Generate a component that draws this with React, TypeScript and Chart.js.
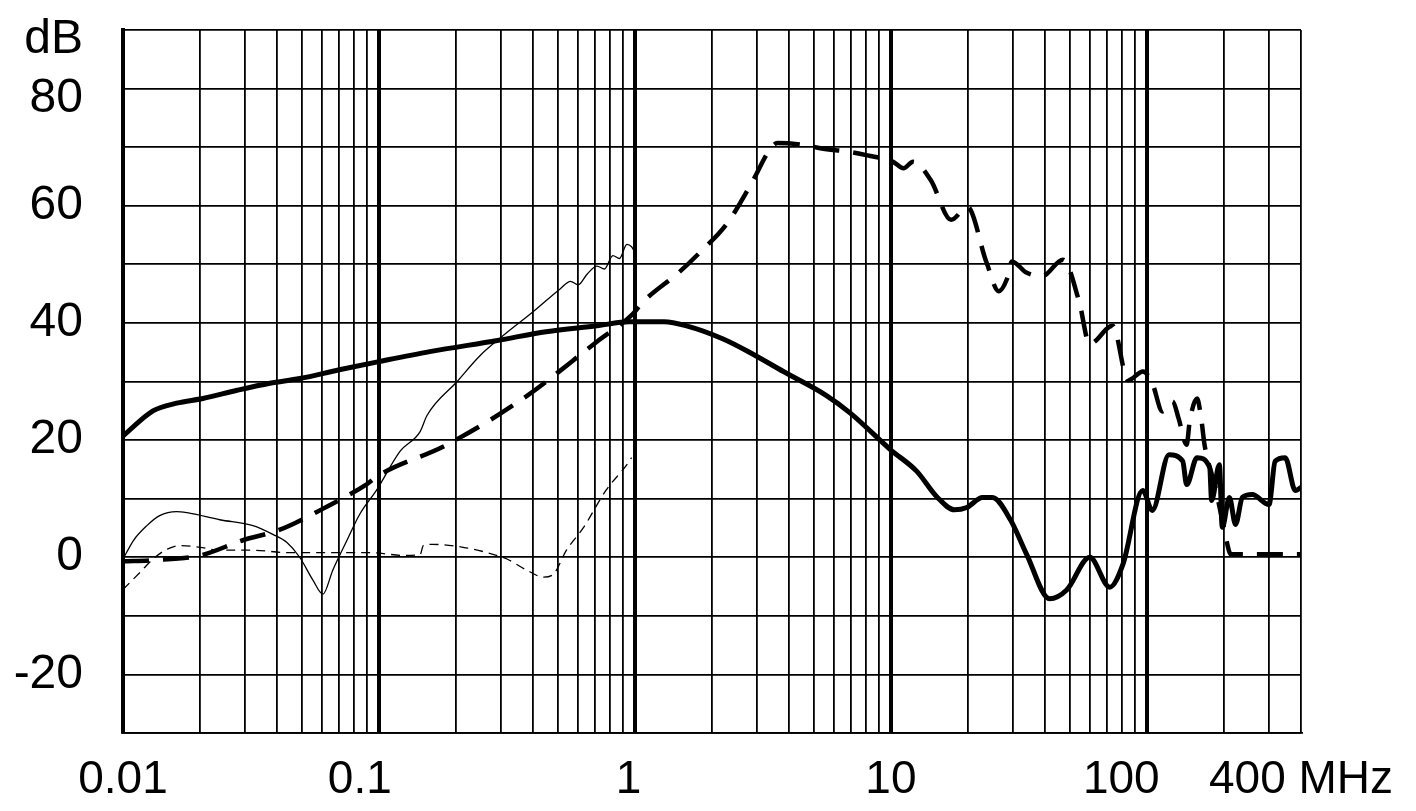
import React, { useEffect, useRef } from "react";
import { Chart, registerables } from "chart.js";

Chart.register(...registerables);

// ---- Axis ticks ----
const xDecades = [0.01, 0.1, 1, 10, 100];
const xMultipliers = [1, 2, 3, 4, 5, 6, 7, 8, 9];
const xMax = 400;
const xLabelValues = [0.01, 0.1, 1, 10, 100, 400];
const xLabelTexts = ["0.01", "0.1   ", "1 ", "10", "100    ", "400 MHz"];
const yLabelValues = [90, 80, 60, 40, 20, 0, -20];
const yLabelTexts = ["dB", "80", "60", "40", "20", "0", "-20"];
const yLoweredLabels = [90, 80];

// ---- Series: thick solid ----
const thickSolidFreq = [0.01, 0.0131, 0.0162, 0.0205, 0.0279, 0.0375, 0.049, 0.07, 0.1, 0.158, 0.29, 0.45, 0.71, 0.95, 1.3, 1.59, 2.2, 2.8, 3.8, 5.6, 6.94, 10, 12.6, 15.2, 17.7, 19.8, 22.8, 24.9, 29.3, 33.9, 41.7, 48.6, 59.8, 71.6, 80.6, 96.3, 105, 122, 138, 143, 157, 176, 179, 192, 197, 210, 222, 236, 258, 300, 317, 347, 380, 400];
const thickSolidDb = [20.7, 25, 26.3, 27.1, 28.5, 29.7, 30.5, 32, 33.4, 35.1, 37, 38.5, 39.5, 40.2, 40.2, 39.5, 37.3, 35, 31.7, 27.6, 24.6, 18.3, 14.7, 10.2, 8.1, 8.5, 10.2, 10.2, 6.4, 0.5, -7.1, -5.6, 0, -5.1, -1.2, 11.4, 8, 17.5, 16.4, 12.4, 17, 15.3, 9.7, 15.8, 5.1, 10.2, 5.6, 10.2, 10.7, 9, 16.4, 17, 11.4, 11.9];

// ---- Series: thick dashed ----
const thickDashFreq = [0.01, 0.0131, 0.02, 0.0294, 0.041, 0.0605, 0.0898, 0.1, 0.184, 0.366, 0.71, 0.98, 1.07, 1.5, 1.79, 2.3, 2.9, 3.3, 3.6, 4.7, 5.3, 6.9, 8.1, 10.2, 11.2, 12.2, 14.3, 17.2, 19.9, 23.6, 26.4, 28.4, 29.7, 33.8, 39, 47, 54.4, 59.7, 73.5, 84.5, 96.5, 105, 115, 126, 133, 143, 147, 157, 163, 168, 185, 200, 213, 400];
const thickDashDb = [-0.7, -0.5, 0.3, 2.9, 4.7, 8.3, 12.5, 14, 19.2, 27.1, 36.8, 41.5, 43.5, 48.8, 52, 57.1, 64.4, 69, 70.7, 70.3, 69.8, 69.2, 68.6, 67.5, 66.4, 67.5, 64.4, 57.6, 59.8, 50.4, 45.4, 47.5, 50.5, 48.6, 48, 50.8, 43.6, 36.4, 39.5, 30.2, 31.7, 29.7, 24.9, 26.6, 23.7, 19.2, 23.2, 27.1, 23.7, 19.2, 12, 5, 0.5, 0.5];

// ---- Series: thin solid ----
const thinSolidFreq = [0.01, 0.011, 0.0124, 0.0139, 0.0162, 0.0178, 0.0239, 0.0322, 0.0385, 0.0437, 0.049, 0.0552, 0.0604, 0.066, 0.075, 0.084, 0.098, 0.121, 0.145, 0.154, 0.202, 0.248, 0.305, 0.4, 0.51, 0.56, 0.6, 0.65, 0.71, 0.76, 0.82, 0.87, 0.93, 0.97, 1.0];
const thinSolidDb = [-0.3, 2.9, 5.4, 7.1, 7.8, 7.6, 6.4, 5.4, 3.9, 2.5, 0, -3.9, -6.3, -2.2, 2.9, 7.3, 11.5, 18.1, 21.5, 24.2, 30, 34.4, 37.8, 41.9, 45.8, 47.1, 46.5, 48.3, 49.7, 49.2, 51.5, 51, 53.4, 53, 52];

// ---- Series: thin dashed ----
const thinDashFreq = [0.01, 0.0117, 0.0131, 0.0149, 0.0167, 0.02, 0.0239, 0.032, 0.044, 0.059, 0.09, 0.128, 0.145, 0.149, 0.162, 0.213, 0.264, 0.316, 0.378, 0.44, 0.48, 0.54, 0.63, 0.77, 0.93, 0.97];
const thinDashDb = [-5.5, -2.5, -0.3, 1.4, 2, 1.7, 1.2, 1.2, 0.8, 0.8, 0.8, 0.3, 0.5, 2, 2.2, 1.7, 0.8, -0.3, -2.2, -3.4, -2.9, 1.2, 5.1, 11.4, 15.8, 17];

const FONT = "'Liberation Sans', Arial, sans-serif";

function toPoints(fs: number[], ds: number[]) {
  return fs.map((f, i) => ({ x: f, y: ds[i] }));
}

function near(a: number, b: number) {
  return Math.abs(a - b) / b < 1e-6;
}

export default function App() {
  const ref = useRef<HTMLCanvasElement | null>(null);

  useEffect(() => {
    if (!ref.current) return;
    const gridValues: number[] = [];
    xDecades.forEach((d) =>
      xMultipliers.forEach((m) => {
        const v = +(d * m).toPrecision(6);
        if (v <= xMax) gridValues.push(v);
      })
    );

    const isDecade = (v: number) => xDecades.some((d) => near(v, d));

    const chart = new Chart(ref.current, {
      type: "line",
      data: {
        datasets: [
          {
            data: toPoints(thinSolidFreq, thinSolidDb),
            borderColor: "#000",
            borderWidth: 1.3,
            pointRadius: 0,
            cubicInterpolationMode: "monotone",
          },
          {
            data: toPoints(thinDashFreq, thinDashDb),
            borderColor: "#000",
            borderWidth: 1.3,
            borderDash: [9, 6],
            pointRadius: 0,
            cubicInterpolationMode: "monotone",
          },
          {
            data: toPoints(thickDashFreq, thickDashDb),
            borderColor: "#000",
            borderWidth: 4.5,
            borderDash: [26, 14],
            pointRadius: 0,
            cubicInterpolationMode: "monotone",
          },
          {
            data: toPoints(thickSolidFreq, thickSolidDb),
            borderColor: "#000",
            borderWidth: 5,
            pointRadius: 0,
            cubicInterpolationMode: "monotone",
          },
        ],
      },
      options: {
        animation: false,
        responsive: true,
        maintainAspectRatio: false,
        layout: { padding: { top: 30, right: 115, left: 0, bottom: 0 } },
        plugins: { legend: { display: false }, tooltip: { enabled: false } },
        scales: {
          x: {
            type: "logarithmic",
            min: 0.01,
            max: xMax,
            afterBuildTicks: (axis: any) => {
              axis.ticks = gridValues.map((v) => ({ value: v }));
            },
            afterFit: (axis: any) => {
              axis.height = 78;
              axis.paddingLeft = 0;
              axis.paddingRight = 0;
            },
            grid: {
              color: "#000",
              drawTicks: false,
              lineWidth: (ctx: any) => (ctx.tick && isDecade(ctx.tick.value) ? 4 : 1.8),
            },
            border: { display: true, color: "#000", width: 1.8 },
            ticks: {
              autoSkip: false,
              maxRotation: 0,
              minRotation: 0,
              padding: 20,
              color: "#000",
              font: { family: FONT, size: 46 },
              callback: (value: any) => {
                const v = Number(value);
                const i = xLabelValues.findIndex((lv) => near(v, lv));
                return i >= 0 ? xLabelTexts[i] : "";
              },
            },
          },
          y: {
            type: "linear",
            min: -30,
            max: 90,
            afterFit: (axis: any) => {
              axis.width = 123;
              axis.paddingTop = 0;
              axis.paddingBottom = 0;
            },
            grid: { color: "#000", drawTicks: false, lineWidth: 1.8 },
            border: { display: true, color: "#000", width: 4 },
            ticks: {
              stepSize: 10,
              autoSkip: false,
              padding: 40,
              color: "#000",
              font: (ctx: any) => {
                const v = ctx.tick ? ctx.tick.value : null;
                const lowered = v !== null && yLoweredLabels.includes(v);
                return { family: FONT, size: 48, lineHeight: lowered ? 20 / 48 : 1.2 };
              },
              callback: (value: any) => {
                const v = Number(value);
                const i = yLabelValues.indexOf(v);
                if (i < 0) return "";
                return yLoweredLabels.includes(v) ? ["", yLabelTexts[i]] : yLabelTexts[i];
              },
            },
          },
        },
      },
    } as any);
    return () => chart.destroy();
  }, []);

  return (
    <div style={{ position: "fixed", left: 0, top: 0, width: 1416, height: 811, background: "#fff" }}>
      <canvas ref={ref} />
    </div>
  );
}
